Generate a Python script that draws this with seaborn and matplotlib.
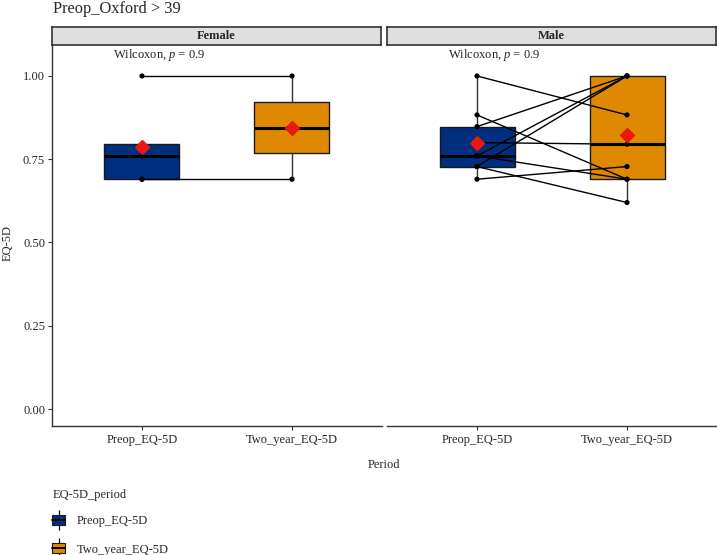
import matplotlib
matplotlib.use("Agg")
import matplotlib.pyplot as plt
import seaborn as sns
import pandas as pd
from matplotlib.patches import Patch
from matplotlib.lines import Line2D
from matplotlib.legend_handler import HandlerTuple

# values (EQ-5D scores)
periods = ["Preop_EQ-5D", "Two_year_EQ-5D"]
sexes = ["Female", "Male"]
colors = ["#002F80", "#DE8900"]

female_preop = [1.0, 0.795, 0.76, 0.69, 0.69]
female_two_year = [1.0, 0.845, 0.69]
# paired lines visible in the female panel
female_pair_pre = [1.0, 0.69]
female_pair_post = [1.0, 0.69]

male_preop = [1.0, 0.883, 0.848, 0.80, 0.76, 0.76, 0.728, 0.728, 0.69]
male_two_year = [0.883, 0.69, 1.0, 0.795, 1.0, 0.69, 1.0, 0.62, 0.728]

p_labels = ["0.9", "0.9"]

serif = "Liberation Serif"


def long_table(pre, post):
    return pd.DataFrame({
        "period": [periods[0]] * len(pre) + [periods[1]] * len(post),
        "value": list(pre) + list(post),
    })


def pair_table(pre, post):
    rows = []
    for i, (a, b) in enumerate(zip(pre, post)):
        rows.append({"id": i, "pos": 0, "value": a})
        rows.append({"id": i, "pos": 1, "value": b})
    return pd.DataFrame(rows)


sns.set_theme(style="white")
plt.rcParams["font.family"] = [serif, "DejaVu Serif"]
plt.rcParams["mathtext.fontset"] = "custom"
plt.rcParams["mathtext.it"] = serif + ":italic"
plt.rcParams["mathtext.rm"] = serif

W, H = 717, 555
fig = plt.figure(figsize=(W / 100, H / 100), dpi=100)

panels = {
    "Female": (female_preop, female_two_year, female_pair_pre, female_pair_post),
    "Male": (male_preop, male_two_year, male_preop, male_two_year),
}
lefts = [52, 387]
pw = 330
top, bottom = 45, 426
fs = 9

for k, sex in enumerate(sexes):
    pre, post, lp, lq = panels[sex]
    ax = fig.add_axes([lefts[k] / W, 1 - bottom / H, pw / W, (bottom - top) / H])
    df = long_table(pre, post)
    sns.boxplot(data=df, x="period", y="value", hue="period", order=periods,
                hue_order=periods, palette=colors, width=0.5, dodge=False,
                showfliers=False, showcaps=False, saturation=1, ax=ax,
                linecolor="#1a1a1a", linewidth=1.0, legend=False,
                medianprops=dict(color="black", linewidth=2.2),
                whiskerprops=dict(color="#333333", linewidth=1.0),
                showmeans=True,
                meanprops=dict(marker="D", markerfacecolor="#E8190F",
                               markeredgecolor="#E8190F", markersize=7, zorder=6))
    pairs = pair_table(lp, lq)
    sns.lineplot(data=pairs, x="pos", y="value", units="id", estimator=None,
                 color="black", linewidth=1.0, ax=ax, zorder=4, legend=False)
    sns.scatterplot(x=[0] * len(pre) + [1] * len(post), y=list(pre) + list(post),
                    color="black", s=14, edgecolor="none", ax=ax, zorder=5)

    ax.set_xlim(-0.6, 1.6)
    ax.set_ylim(-0.051, 1.093)
    ax.set_xticks([0, 1])
    ax.set_xticklabels(periods, fontsize=fs)
    ax.set_xlabel("")
    ax.set_ylabel("")
    ax.tick_params(axis="x", length=3, width=0.8, color="#333333", pad=3,
                   bottom=True)
    for s in ["top", "right"]:
        ax.spines[s].set_visible(False)
    ax.spines["bottom"].set_color("#333333")
    ax.spines["bottom"].set_linewidth(1.0)
    if k == 0:
        ax.set_yticks([0, 0.25, 0.5, 0.75, 1.0])
        ax.set_yticklabels(["0.00", "0.25", "0.50", "0.75", "1.00"], fontsize=fs)
        ax.tick_params(axis="y", length=3, width=0.8, color="#333333", pad=2,
                       left=True)
        ax.spines["left"].set_color("#333333")
        ax.spines["left"].set_linewidth(1.0)
    else:
        ax.set_yticks([])
        ax.spines["left"].set_visible(False)

    ax.text(-0.19, 1.063, "Wilcoxon, $\\it{p}$ = " + p_labels[k], fontsize=fs,
            ha="left", va="center", color="#222222")

    # facet strip
    sax = fig.add_axes([lefts[k] / W, 1 - top / H, (pw - 1) / W, 18 / H])
    sax.set_facecolor("#DFDFDF")
    sax.set_xticks([])
    sax.set_yticks([])
    for s in sax.spines.values():
        s.set_color("#333333")
        s.set_linewidth(1.2)
    sax.text(0.5, 0.5, sex, ha="center", va="center", fontsize=fs,
             fontweight="bold", transform=sax.transAxes)

fig.text(53 / W, 1 - 13 / H, "Preop_Oxford > 39", fontsize=11.8,
         ha="left", va="baseline")
fig.text(8 / W, 1 - 243 / H, "EQ-5D", rotation=90, fontsize=fs,
         ha="center", va="center")
fig.text(384 / W, 1 - 465 / H, "Period", fontsize=fs, ha="center", va="center")

# legend title placed on its own, entries below it
fig.text(53 / W, 1 - 495 / H, "EQ-5D_period", fontsize=fs, ha="left", va="center")
handles = [(Line2D([], [], marker="|", linestyle="none", markersize=15,
                   color="black", markeredgewidth=0.9),
            Patch(facecolor=c, edgecolor="#1a1a1a", linewidth=0.8),
            Line2D([], [], color="black", linewidth=1.4)) for c in colors]
leg = fig.legend(handles, periods, loc="upper left",
                 bbox_to_anchor=(52 / W, 1 - 515 / H), frameon=False,
                 fontsize=fs, labelspacing=1.3,
                 handlelength=1.05, handleheight=0.8, handletextpad=0.9,
                 borderpad=0, borderaxespad=0,
                 handler_map={tuple: HandlerTuple(ndivide=1, pad=0)})

fig.savefig("out.png", dpi=100)
